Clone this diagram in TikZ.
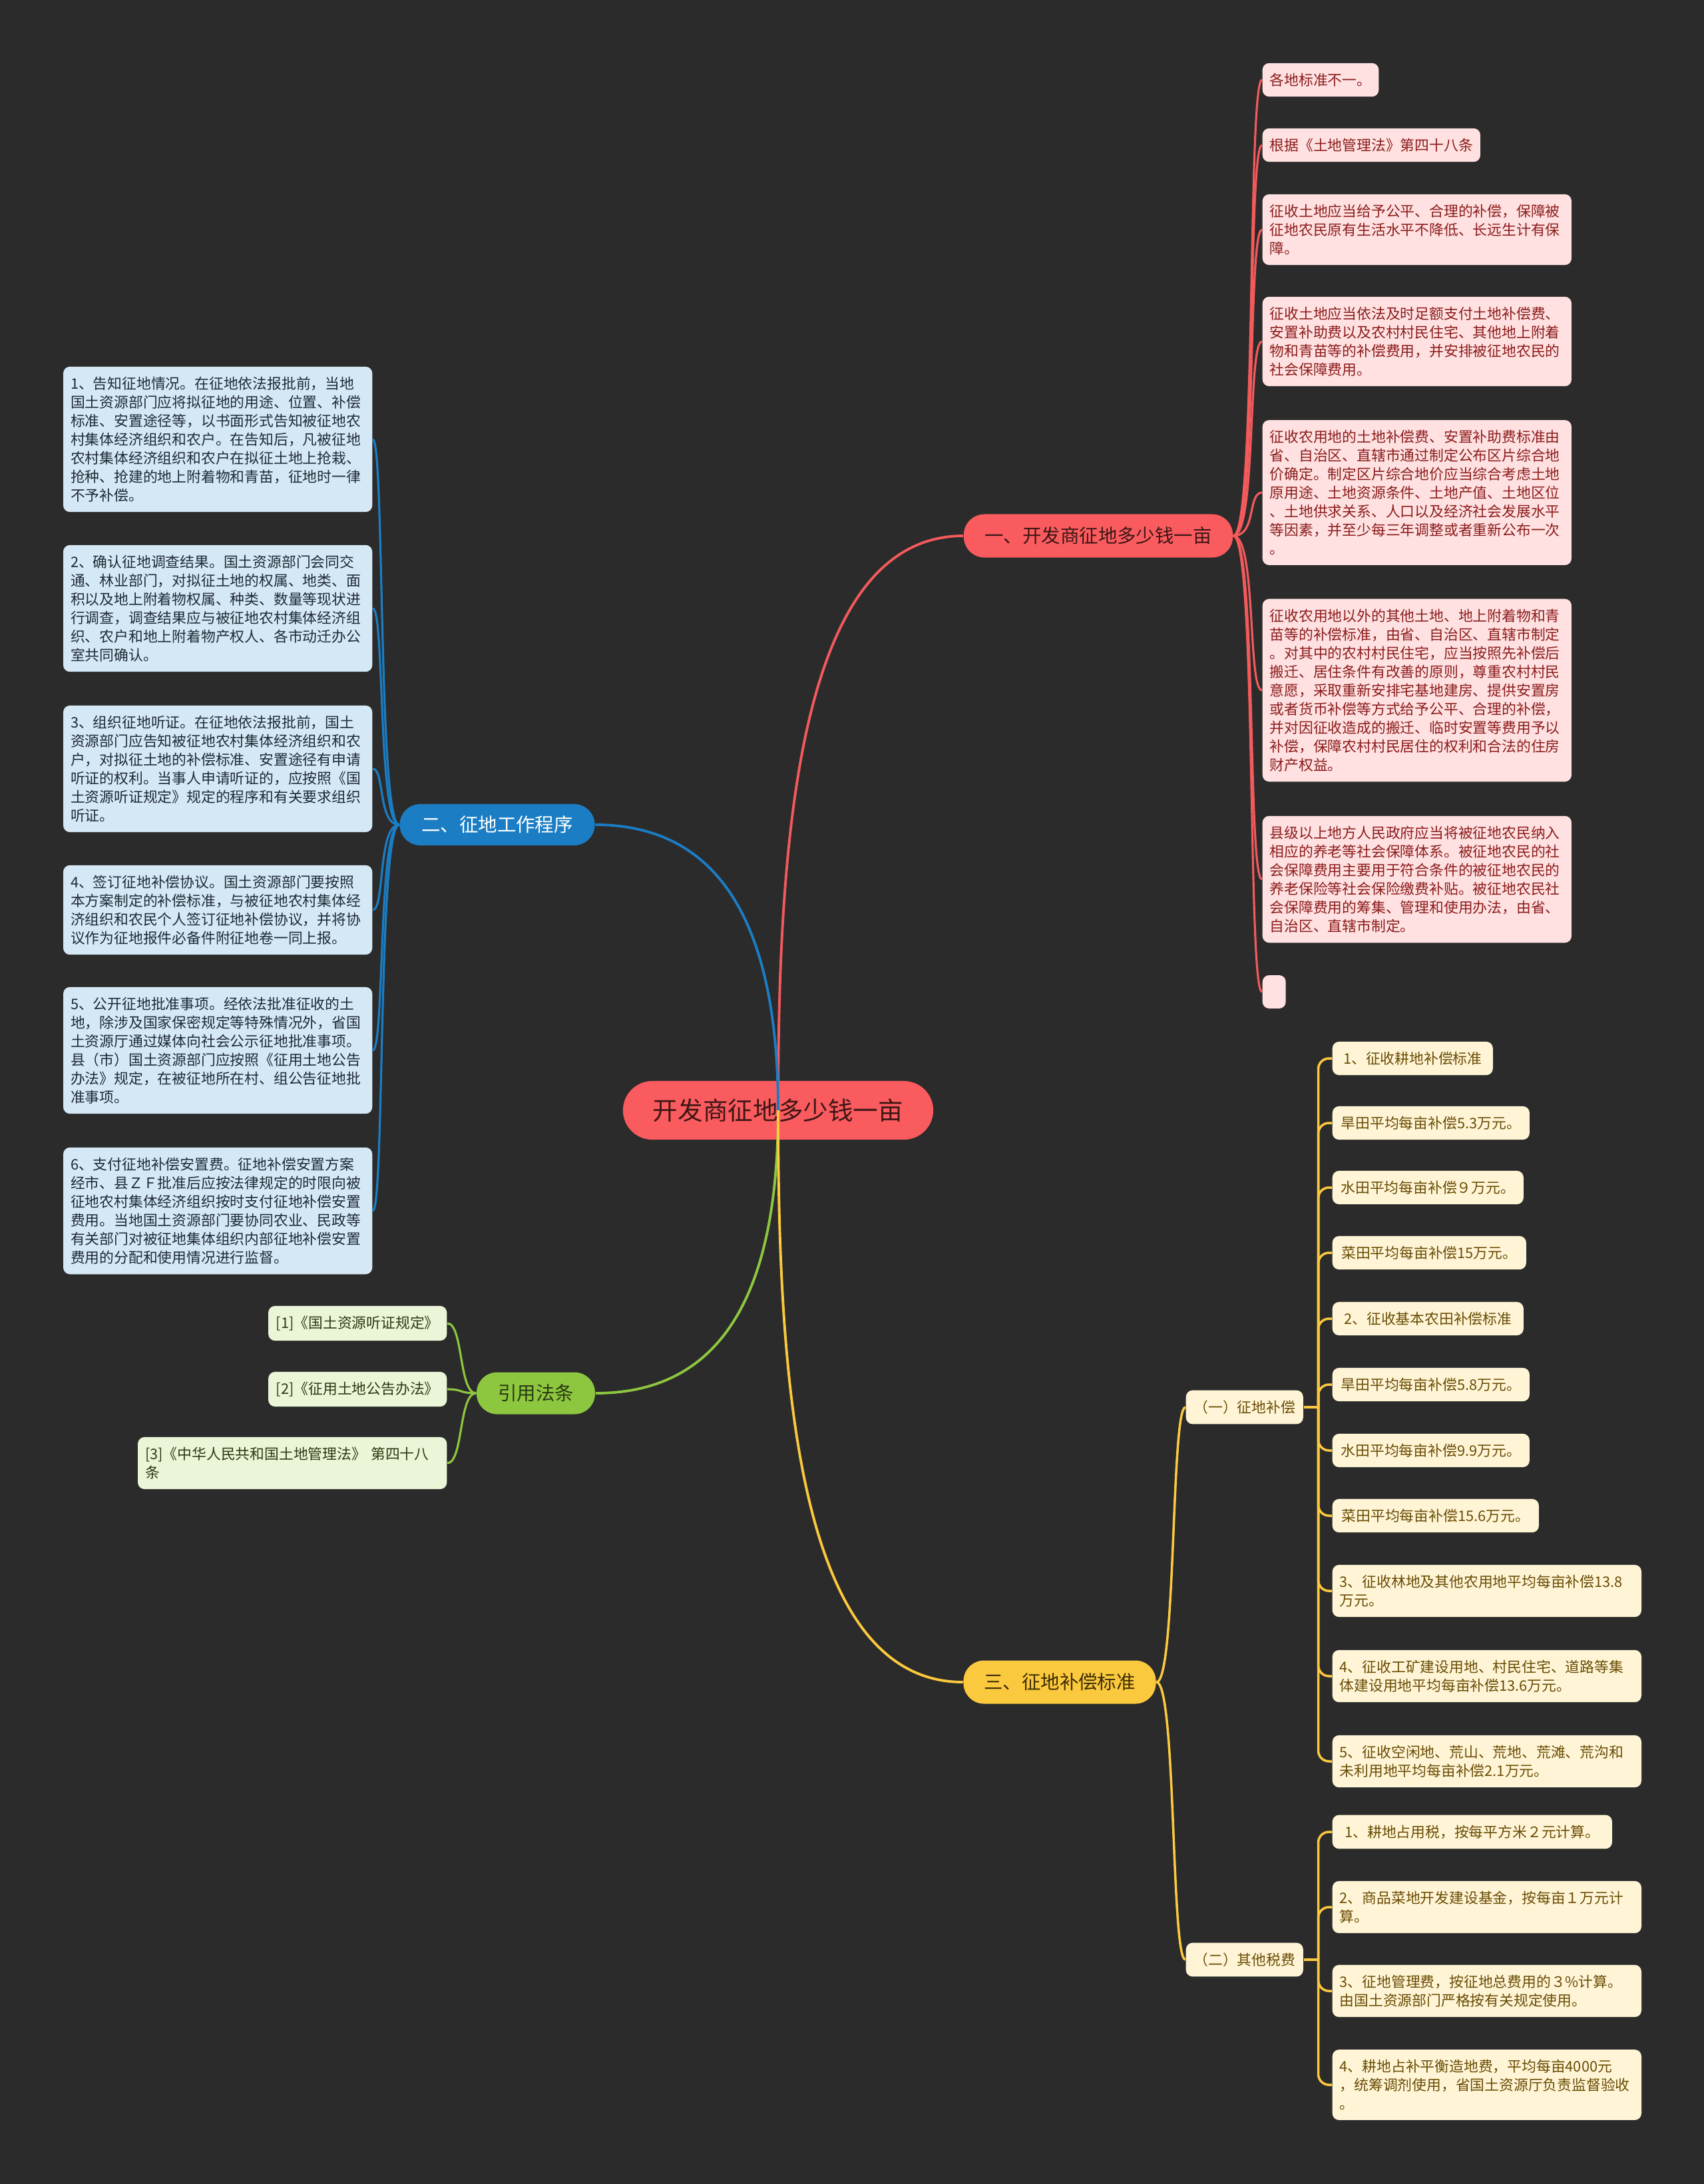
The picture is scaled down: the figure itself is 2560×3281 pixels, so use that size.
\documentclass[tikz,border=0pt]{standalone}
\usepackage{fontspec}
\setmainfont{Noto Sans CJK SC}
\usepackage{xcolor}
\usepackage{tikz}
\definecolor{canvas}{HTML}{2B2B2B}
\definecolor{rootred}{HTML}{FA5B5E}
\definecolor{rootink}{HTML}{3E1616}
\definecolor{redline}{HTML}{F25A5C}
\definecolor{redleaf}{HTML}{FFE1E1}
\definecolor{redink}{HTML}{8C1C1C}
\definecolor{bluemain}{HTML}{1B7DC4}
\definecolor{blueleaf}{HTML}{D5E8F5}
\definecolor{blueink}{HTML}{1E2B36}
\definecolor{greenmain}{HTML}{8DC63F}
\definecolor{greenleaf}{HTML}{EBF5D8}
\definecolor{greenink}{HTML}{2C3A12}
\definecolor{yellowmain}{HTML}{FBC93D}
\definecolor{yellowleaf}{HTML}{FFF5D6}
\definecolor{yellowink}{HTML}{6A4C05}
\definecolor{yellowdark}{HTML}{3E2E05}
\newcommand\leaffont{\fontsize{6.2}{7.97}\selectfont}
\newcommand\topicfont{\fontsize{8.1}{9.5}\selectfont}
\newcommand\rootfont{\fontsize{10.7}{12}\selectfont}
\tikzset{
  leaf/.style={rounded corners=0.1cm, inner xsep=0.11cm, inner ysep=0.15cm, font=\leaffont, anchor=west},
  leafr/.style={leaf, fill=redleaf, text=redink},
  leafb/.style={leaf, fill=blueleaf, text=blueink, anchor=east},
  leafg/.style={leaf, fill=greenleaf, text=greenink, anchor=east},
  leafy/.style={leaf, fill=yellowleaf, text=yellowink},
  para/.style={text width=4.42cm, align=left},
  topic/.style={rounded corners=0.31cm, minimum height=0.65cm, inner sep=0pt, font=\topicfont},
  rootbox/.style={rounded corners=0.44cm, minimum width=4.66cm, minimum height=0.88cm, inner sep=0pt, font=\rootfont, fill=rootred, text=rootink},
  lnroot/.style={line width=1.1pt},
  lnr/.style={draw=redline, line width=0.9pt},
  lnb/.style={draw=bluemain, line width=0.9pt},
  lng/.style={draw=greenmain, line width=0.9pt},
  lny/.style={draw=yellowmain, line width=1pt},
}
\begin{document}
\begin{tikzpicture}[x=0.01cm, y=-0.01cm]
  \fill[canvas] (0,0) rectangle (2560,3281);
  \useasboundingbox (0,0) rectangle (2560,3281);

  % centre and topics
  \node[rootbox] (root) at (1169,1668) {开发商征地多少钱一亩};
  \node[topic, fill=rootred, text=rootink, minimum width=4.04cm] (t1) at (1650,805) {一、开发商征地多少钱一亩};
  \node[topic, fill=bluemain, text=white, minimum width=2.93cm, minimum height=0.62cm] (t2) at (747,1239) {二、征地工作程序};
  \node[topic, fill=yellowmain, text=yellowdark, minimum width=2.89cm] (t3) at (1592,2527) {三、征地补偿标准};
  \node[topic, fill=greenmain, text=greenink, minimum width=1.78cm, minimum height=0.63cm] (t4) at (805,2093) {引用法条};

  % topic one
  \node[leafr] (r1) at (1896,120) {各地标准不一。};
  \node[leafr] (r2) at (1896,218) {根据《土地管理法》第四十八条};
  \node[leafr, para] (r3) at (1896,345) {征收土地应当给予公平、合理的补偿，保障被\\征地农民原有生活水平不降低、长远生计有保\\障。};
  \node[leafr, para] (r4) at (1896,513) {征收土地应当依法及时足额支付土地补偿费、\\安置补助费以及农村村民住宅、其他地上附着\\物和青苗等的补偿费用，并安排被征地农民的\\社会保障费用。};
  \node[leafr, para] (r5) at (1896,740) {征收农用地的土地补偿费、安置补助费标准由\\省、自治区、直辖市通过制定公布区片综合地\\价确定。制定区片综合地价应当综合考虑土地\\原用途、土地资源条件、土地产值、土地区位\\、土地供求关系、人口以及经济社会发展水平\\等因素，并至少每三年调整或者重新公布一次\\。};
  \node[leafr, para] (r6) at (1896,1037) {征收农用地以外的其他土地、地上附着物和青\\苗等的补偿标准，由省、自治区、直辖市制定\\。对其中的农村村民住宅，应当按照先补偿后\\搬迁、居住条件有改善的原则，尊重农村村民\\意愿，采取重新安排宅基地建房、提供安置房\\或者货币补偿等方式给予公平、合理的补偿，\\并对因征收造成的搬迁、临时安置等费用予以\\补偿，保障农村村民居住的权利和合法的住房\\财产权益。};
  \node[leafr, para] (r7) at (1896,1321) {县级以上地方人民政府应当将被征地农民纳入\\相应的养老等社会保障体系。被征地农民的社\\会保障费用主要用于符合条件的被征地农民的\\养老保险等社会保险缴费补贴。被征地农民社\\会保障费用的筹集、管理和使用办法，由省、\\自治区、直辖市制定。};
  \node[leafr, inner sep=0pt, minimum width=0.35cm, minimum height=0.5cm] (r8) at (1896,1490) {};

  % topic two
  \node[leafb, para] (b1) at (560,660) {1、告知征地情况。在征地依法报批前，当地\\国土资源部门应将拟征地的用途、位置、补偿\\标准、安置途径等，以书面形式告知被征地农\\村集体经济组织和农户。在告知后，凡被征地\\农村集体经济组织和农户在拟征土地上抢栽、\\抢种、抢建的地上附着物和青苗，征地时一律\\不予补偿。};
  \node[leafb, para] (b2) at (560,914) {2、确认征地调查结果。国土资源部门会同交\\通、林业部门，对拟征土地的权属、地类、面\\积以及地上附着物权属、种类、数量等现状进\\行调查，调查结果应与被征地农村集体经济组\\织、农户和地上附着物产权人、各市动迁办公\\室共同确认。};
  \node[leafb, para] (b3) at (560,1155) {3、组织征地听证。在征地依法报批前，国土\\资源部门应告知被征地农村集体经济组织和农\\户，对拟征土地的补偿标准、安置途径有申请\\听证的权利。当事人申请听证的，应按照《国\\土资源听证规定》规定的程序和有关要求组织\\听证。};
  \node[leafb, para] (b4) at (560,1367) {4、签订征地补偿协议。国土资源部门要按照\\本方案制定的补偿标准，与被征地农村集体经\\济组织和农民个人签订征地补偿协议，并将协\\议作为征地报件必备件附征地卷一同上报。};
  \node[leafb, para] (b5) at (560,1578) {5、公开征地批准事项。经依法批准征收的土\\地，除涉及国家保密规定等特殊情况外，省国\\土资源厅通过媒体向社会公示征地批准事项。\\县（市）国土资源部门应按照《征用土地公告\\办法》规定，在被征地所在村、组公告征地批\\准事项。};
  \node[leafb, para] (b6) at (560,1819) {6、支付征地补偿安置费。征地补偿安置方案\\经市、县ＺＦ批准后应按法律规定的时限向被\\征地农村集体经济组织按时支付征地补偿安置\\费用。当地国土资源部门要协同农业、民政等\\有关部门对被征地集体组织内部征地补偿安置\\费用的分配和使用情况进行监督。};

  % references
  \node[leafg, minimum width=2.68cm] (g1) at (672,1988) {[1]《国土资源听证规定》};
  \node[leafg, minimum width=2.68cm] (g2) at (672,2087) {[2]《征用土地公告办法》};
  \node[leafg, para] (g3) at (672,2198) {[3]《中华人民共和国土地管理法》 第四十八\\条};

  % topic three
  \node[leafy, minimum width=1.76cm] (s1) at (1781,2114) {（一）征地补偿};
  \node[leafy, minimum width=1.76cm] (s2) at (1781,2944) {（二）其他税费};
  \foreach \n/\y/\w/\t in {
    y1/1590/2.41/{1、征收耕地补偿标准},
    y2/1687/2.96/{旱田平均每亩补偿5.3万元。},
    y3/1784/2.87/{水田平均每亩补偿９万元。},
    y4/1882/2.91/{菜田平均每亩补偿15万元。},
    y5/1981/2.87/{2、征收基本农田补偿标准},
    y6/2080/2.96/{旱田平均每亩补偿5.8万元。},
    y7/2179/2.96/{水田平均每亩补偿9.9万元。},
    y8/2277/3.10/{菜田平均每亩补偿15.6万元。}}{
    \node[leafy, minimum width=\w cm] (\n) at (2001,\y) {\t};
  }
  \node[leafy, para] (y9) at (2001,2390) {3、征收林地及其他农用地平均每亩补偿13.8\\万元。};
  \node[leafy, para] (y10) at (2001,2518) {4、征收工矿建设用地、村民住宅、道路等集\\体建设用地平均每亩补偿13.6万元。};
  \node[leafy, para] (y11) at (2001,2646) {5、征收空闲地、荒山、荒地、荒滩、荒沟和\\未利用地平均每亩补偿2.1万元。};
  \node[leafy, minimum width=4.20cm] (z1) at (2001,2752) {1、耕地占用税，按每平方米２元计算。};
  \node[leafy, para] (z2) at (2001,2865) {2、商品菜地开发建设基金，按每亩１万元计\\算。};
  \node[leafy, para] (z3) at (2001,2991) {3、征地管理费，按征地总费用的３\%计算。\\由国土资源部门严格按有关规定使用。};
  \node[leafy, para] (z4) at (2001,3132) {4、耕地占补平衡造地费，平均每亩4000元\\，统筹调剂使用，省国土资源厅负责监督验收\\。};

  % connectors
  \draw[lnroot, draw=redline] (root.center) .. controls +(0,-400) and +(-250,0) .. (t1.west);
  \draw[lnroot, draw=bluemain] (root.center) .. controls +(0,-290) and +(180,0) .. (t2.east);
  \draw[lnroot, draw=greenmain] (root.center) .. controls +(0,290) and +(180,0) .. (t4.east);
  \draw[lnroot, draw=yellowmain] (root.center) .. controls +(0,400) and +(-250,0) .. (t3.west);
  \foreach \i in {1,...,8} \draw[lnr] (t1.east) .. controls +(35,0) and +(-22,0) .. (r\i.west);
  \foreach \i in {1,...,6} \draw[lnb] (t2.west) .. controls +(-32,0) and +(18,0) .. (b\i.east);
  \foreach \i in {1,2,3} \draw[lng] (t4.west) .. controls +(-26,0) and +(24,0) .. (g\i.east);
  \foreach \i in {1,2} \draw[lny] (t3.east) .. controls +(30,0) and +(-22,0) .. (s\i.west);
  \path (s1.east) ++(22,0) coordinate (k1);
  \path (s2.east) ++(22,0) coordinate (k2);
  \draw[lny] (s1.east) -- (k1);
  \draw[lny] (s2.east) -- (k2);
  \foreach \i in {1,...,11} \draw[lny, rounded corners=0.16cm] (k1) |- (y\i.west);
  \foreach \i in {1,...,4} \draw[lny, rounded corners=0.16cm] (k2) |- (z\i.west);
\end{tikzpicture}
\end{document}
